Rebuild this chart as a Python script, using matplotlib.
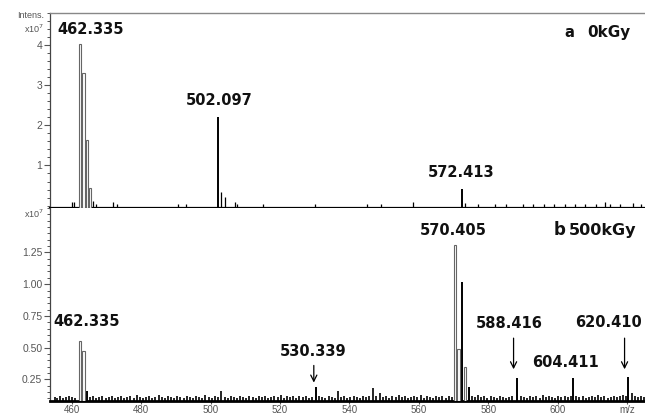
import matplotlib
matplotlib.use("Agg")
import matplotlib.pyplot as plt
from matplotlib.ticker import MultipleLocator, FixedLocator, FixedFormatter

# ---------------- data (intensity in units of 1e7) ----------------
# panel a (0 kGy)
a_outline_mz = [462.335, 463.3, 464.3, 465.3]
a_outline_int = [4.03, 3.31, 1.64, 0.45]
a_solid_mz = [502.097, 572.413]
a_solid_int = [2.20, 0.42]
a_noise_mz = [460.0, 460.6, 466.2, 467.0, 472.0, 473.0, 490.5, 493.0, 503.1, 504.1,
              506.9, 507.7, 515.0, 530.0, 545.0, 549.0, 558.3, 573.4, 577.0, 582.0,
              585.0, 590.0, 593.0, 596.0, 599.0, 602.0, 605.0, 608.0, 611.0, 613.6,
              615.0, 618.0, 621.7, 624.0]
a_noise_int = [0.08, 0.08, 0.12, 0.05, 0.10, 0.05, 0.04, 0.04, 0.34, 0.22,
               0.10, 0.05, 0.03, 0.03, 0.03, 0.03, 0.08, 0.07, 0.03, 0.03,
               0.05, 0.03, 0.03, 0.04, 0.03, 0.03, 0.04, 0.03, 0.04, 0.08,
               0.04, 0.04, 0.06, 0.04]

# panel b (500 kGy)
b_outline_mz = [462.335, 463.3, 570.405, 571.4, 573.4]
b_outline_int = [0.55, 0.47, 1.31, 0.49, 0.35]
b_solid_mz = [464.3, 530.339, 572.4, 574.4, 588.416, 604.411, 620.410]
b_solid_int = [0.16, 0.19, 1.02, 0.19, 0.26, 0.26, 0.27]
b_noise_mz = [455.0, 455.8, 456.7, 457.5, 458.4, 459.3, 460.1, 460.9, 465.2, 466.1,
              467.0, 467.9, 468.8, 469.7, 470.6, 471.5, 472.4, 473.3, 474.2, 475.1,
              476.0, 476.9, 477.8, 478.7, 479.6, 480.5, 481.4, 482.3, 483.2, 484.1,
              485.0, 485.9, 486.8, 487.7, 488.6, 489.5, 490.4, 491.3, 492.2, 493.1,
              494.0, 494.9, 495.8, 496.7, 497.6, 498.5, 499.4, 500.3, 501.2, 502.1,
              503.1, 504.0, 504.9, 505.8, 506.7, 507.6, 508.5, 509.4, 510.3, 511.2,
              512.1, 513.0, 513.9, 514.8, 515.7, 516.6, 517.5, 518.4, 519.3, 520.2,
              521.1, 522.0, 522.9, 523.8, 524.7, 525.6, 526.5, 527.4, 528.3, 529.2,
              531.3, 532.2, 533.1, 534.0, 534.9, 535.8, 536.7, 537.6, 538.5, 539.4,
              540.3, 541.2, 542.1, 543.0, 543.9, 544.8, 545.7, 546.8, 547.7, 548.8,
              549.7, 550.6, 551.5, 552.4, 553.3, 554.2, 555.1, 556.0, 556.9, 557.8,
              558.7, 559.6, 560.5, 561.4, 562.3, 563.2, 564.1, 565.0, 565.9, 566.8,
              567.7, 568.6, 569.5, 575.3, 576.2, 577.1, 578.0, 578.9, 579.8, 580.7,
              581.6, 582.5, 583.4, 584.3, 585.2, 586.1, 587.0, 589.4, 590.3, 591.2,
              592.1, 593.0, 593.9, 594.8, 595.7, 596.6, 597.5, 598.4, 599.3, 600.2,
              601.1, 602.0, 602.9, 603.8, 605.4, 606.3, 607.2, 608.1, 609.0, 609.9,
              610.8, 611.7, 612.6, 613.5, 614.4, 615.3, 616.2, 617.1, 618.0, 618.9,
              619.8, 621.4, 622.3, 623.2, 624.1, 625.0]
b_noise_int = [0.11, 0.10, 0.12, 0.10, 0.11, 0.12, 0.11, 0.10, 0.11, 0.12,
               0.10, 0.11, 0.12, 0.10, 0.11, 0.12, 0.10, 0.11, 0.12, 0.10,
               0.11, 0.12, 0.10, 0.13, 0.11, 0.10, 0.11, 0.12, 0.10, 0.11,
               0.13, 0.11, 0.10, 0.12, 0.11, 0.10, 0.12, 0.11, 0.10, 0.12,
               0.11, 0.10, 0.12, 0.11, 0.10, 0.13, 0.11, 0.10, 0.12, 0.11,
               0.16, 0.11, 0.10, 0.12, 0.11, 0.10, 0.12, 0.11, 0.10, 0.12,
               0.11, 0.10, 0.12, 0.11, 0.12, 0.10, 0.11, 0.12, 0.11, 0.13,
               0.10, 0.12, 0.11, 0.12, 0.10, 0.12, 0.11, 0.12, 0.10, 0.11,
               0.12, 0.11, 0.10, 0.12, 0.11, 0.10, 0.16, 0.11, 0.12, 0.10,
               0.11, 0.12, 0.11, 0.10, 0.12, 0.11, 0.12, 0.18, 0.12, 0.14,
               0.11, 0.12, 0.10, 0.12, 0.11, 0.13, 0.11, 0.12, 0.10, 0.11,
               0.12, 0.11, 0.13, 0.10, 0.12, 0.11, 0.10, 0.12, 0.11, 0.12,
               0.10, 0.12, 0.11, 0.12, 0.11, 0.13, 0.11, 0.12, 0.10, 0.12,
               0.11, 0.10, 0.12, 0.11, 0.10, 0.11, 0.12, 0.12, 0.11, 0.10,
               0.12, 0.11, 0.12, 0.10, 0.13, 0.11, 0.12, 0.11, 0.10, 0.12,
               0.11, 0.12, 0.11, 0.12, 0.12, 0.11, 0.12, 0.10, 0.11, 0.12,
               0.11, 0.13, 0.11, 0.12, 0.10, 0.11, 0.12, 0.11, 0.12, 0.13,
               0.12, 0.14, 0.12, 0.11, 0.12, 0.11]

a_labels = [(462.335, "462.335"), (502.097, "502.097"), (572.413, "572.413")]
b_labels = [(462.335, "462.335"), (530.339, "530.339"), (570.405, "570.405"),
            (588.416, "588.416"), (604.411, "604.411"), (620.410, "620.410")]

x_ticks = [460, 480, 500, 520, 540, 560, 580, 600, 620]
x_ticklabels = ["460", "480", "500", "520", "540", "560", "580", "600", "m/z"]
a_yticks = [1, 2, 3, 4]
b_yticks = [0.25, 0.50, 0.75, 1.00, 1.25]

# ---------------- figure ----------------
W, H = 645, 416
fig = plt.figure(figsize=(W / 100, H / 100), dpi=100)
fig.patch.set_facecolor("white")

def px_axes(x0, y0, x1, y1):
    return fig.add_axes([x0 / W, 1 - y1 / H, (x1 - x0) / W, (y1 - y0) / H])

axa = px_axes(50, 13, 645, 208)
axb = px_axes(50, 208, 645, 401)

XLIM = (453.7, 625.2)
A_YLIM = (-0.06, 4.8)
B_YLIM = (0.08, 1.60)

lab_font = dict(family="DejaVu Sans", fontweight="bold", fontsize=10.5, color="#111")
tick_font = "Liberation Sans"

def style_axes(ax, ylim, yticks, fmt, minor):
    ax.set_xlim(*XLIM)
    ax.set_ylim(*ylim)
    ax.yaxis.set_major_locator(FixedLocator(yticks))
    ax.yaxis.set_major_formatter(FixedFormatter([fmt.format(v) for v in yticks]))
    ax.yaxis.set_minor_locator(MultipleLocator(minor))
    ax.tick_params(axis="y", which="major", direction="out", length=4, width=0.8,
                   color="#555", labelcolor="#555", labelsize=7.5, pad=1.5)
    ax.tick_params(axis="y", which="minor", direction="out", length=2.5, width=0.7,
                   color="#555")
    for t in ax.get_yticklabels():
        t.set_family(tick_font)
    ax.spines["right"].set_visible(False)
    ax.spines["left"].set_color("#444")
    ax.spines["left"].set_linewidth(0.9)

style_axes(axa, A_YLIM, a_yticks, "{:g}", 0.2)
style_axes(axb, B_YLIM, b_yticks, "{:.2f}", 0.05)

axa.spines["top"].set_color("#888")
axa.spines["top"].set_linewidth(1.0)
axa.spines["bottom"].set_color("black")
axa.spines["bottom"].set_linewidth(1.6)
axa.tick_params(axis="x", which="both", bottom=False, labelbottom=False)

axb.spines["top"].set_visible(False)
axb.spines["bottom"].set_color("black")
axb.spines["bottom"].set_linewidth(2.0)
axb.set_xticks(x_ticks)
axb.set_xticklabels(x_ticklabels)
axb.tick_params(axis="x", direction="out", length=2.5, width=0.8, color="#555",
                labelcolor="#555", labelsize=7, pad=0.5)
for t in axb.get_xticklabels():
    t.set_family(tick_font)

# ---------------- spectra ----------------
def draw(ax, ylim, o_mz, o_int, s_mz, s_int, n_mz, n_int, noise_lw):
    base = ylim[0]
    ax.vlines(n_mz, base, n_int, color="black", linewidth=noise_lw, zorder=2)
    ax.vlines(s_mz, base, s_int, color="black", linewidth=1.4, zorder=3)
    ax.bar(o_mz, [v - base for v in o_int], bottom=base, width=0.7,
           facecolor="white", edgecolor="#666", linewidth=0.8, zorder=3)

draw(axa, A_YLIM, a_outline_mz, a_outline_int, a_solid_mz, a_solid_int,
     a_noise_mz, a_noise_int, 0.9)
draw(axb, B_YLIM, b_outline_mz, b_outline_int, b_solid_mz, b_solid_int,
     b_noise_mz, b_noise_int, 1.2)

# ---------------- peak labels ----------------
a_pos = {"462.335": (465.5, 4.39), "502.097": (502.4, 2.62), "572.413": (572.1, 0.83)}
for mz, txt in a_labels:
    x, y = a_pos[txt]
    axa.text(x, y, txt, ha="center", va="center", **lab_font)

b_pos = {"462.335": (464.4, 0.71), "530.339": (529.5, 0.47), "570.405": (569.8, 1.425),
         "588.416": (586.2, 0.69), "604.411": (602.4, 0.385), "620.410": (614.6, 0.70)}
for mz, txt in b_labels:
    x, y = b_pos[txt]
    axb.text(x, y, txt, ha="center", va="center", clip_on=False, **lab_font)

# arrows
arrow_props = dict(arrowstyle="->", color="black", lw=0.9, mutation_scale=11,
                   shrinkA=0, shrinkB=0)
for mz, y0, y1 in [(530.339, 0.36, 0.225), (588.416, 0.575, 0.33), (620.410, 0.575, 0.33)]:
    xa = mz - 1.1 if mz > 540 else mz - 0.6
    axb.annotate("", xy=(xa, y1), xytext=(xa, y0), arrowprops=arrow_props)

# sample labels
axa.text(602.0, 4.32, "a", ha="left", va="center", **lab_font)
axa.text(608.6, 4.32, "0kGy", ha="left", va="center", family="DejaVu Sans",
         fontweight="bold", fontsize=11, color="#111")
axb.text(599.0, 1.43, "b", ha="left", va="center", family="DejaVu Sans",
         fontweight="bold", fontsize=12, color="#111")
axb.text(603.3, 1.425, "500kGy", ha="left", va="center", family="DejaVu Sans",
         fontweight="bold", fontsize=11.5, color="#111")

# axis unit texts
fig.text(44 / W, 1 - 16 / H, "Intens.", ha="right", va="center", fontsize=6.5,
         color="#555", family=tick_font)
fig.text(44 / W, 1 - 29 / H, r"x10$^7$", ha="right", va="center", fontsize=6.5,
         color="#555", family=tick_font)
fig.text(44 / W, 1 - 214 / H, r"x10$^7$", ha="right", va="center", fontsize=6.5,
         color="#555", family=tick_font)

fig.savefig("out.png", dpi=100, facecolor="white")
